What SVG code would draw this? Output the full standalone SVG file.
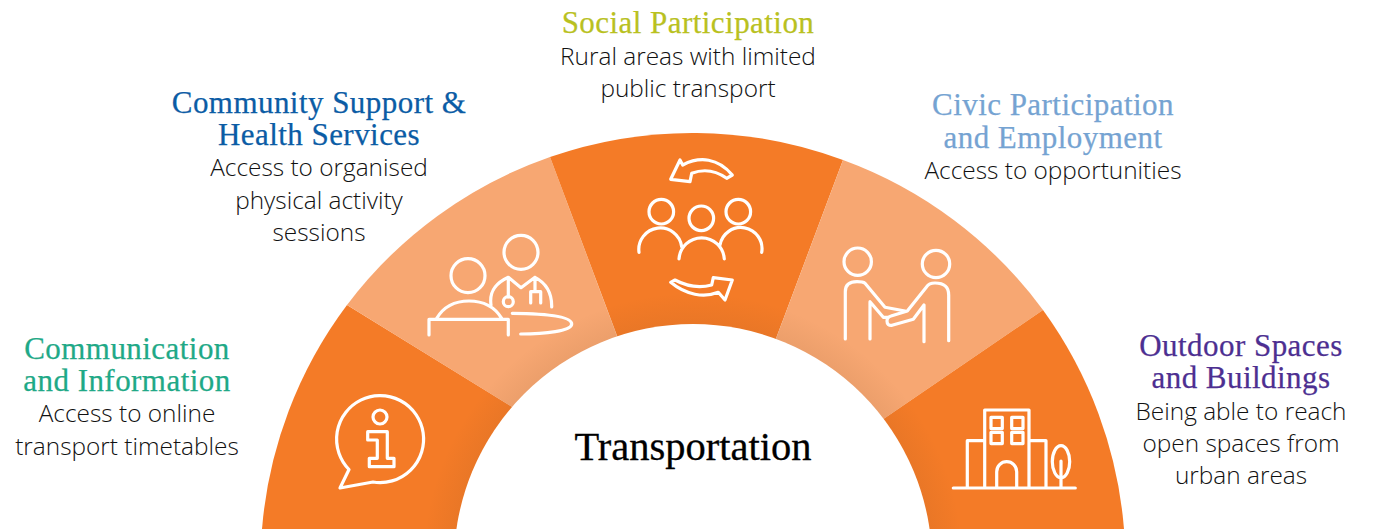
<svg xmlns="http://www.w3.org/2000/svg" width="1387" height="529" viewBox="0 0 1387 529">
<style>
.h{font-family:"Liberation Serif",serif;font-size:31px;letter-spacing:.45px;text-anchor:middle;stroke-width:.25}
.b{font-family:"Open Sans",sans-serif;font-size:24.400px;font-weight:300;fill:#111;text-anchor:middle}
.i{fill:none;stroke:#fff;stroke-width:3.200;stroke-linecap:round;stroke-linejoin:round}
.d{fill:#F47B27}.l{fill:#F7A772}
</style>
<defs>
<radialGradient id="g" gradientUnits="userSpaceOnUse" cx="693" cy="563" r="270">
<stop offset="0.88" stop-color="#7a4a20" stop-opacity=".09"/>
<stop offset="1" stop-color="#7a4a20" stop-opacity="0"/>
</radialGradient>
</defs>
<rect width="1387" height="529" fill="#fff"/>
<g id="ring">
<path class="d" d="M262 529A432 432 0 0 1 347 305L528.500 417L470 529Z"/>
<path class="l" d="M347 305A432 432 0 0 1 550 157L623.700 353.900L528.500 417L512 407Z"/>
<path class="d" d="M550 157A432 432 0 0 1 843 160L770.400 353.600H623.700Z"/>
<path class="l" d="M843 160A432 432 0 0 1 1043 310L869.200 428.800L770.400 353.600Z"/>
<path class="d" d="M1043 310A432 432 0 0 1 1124 529H916L869.200 428.800Z"/>
<circle cx="693" cy="563" r="270" fill="url(#g)"/>
<circle cx="693" cy="563" r="239" fill="#fff"/>
</g>
<g id="node-communication">
<text class="h" x="127" y="358.500" fill="#1FA987" stroke="#1FA987">Communication</text>
<text class="h" x="127" y="390.500" fill="#1FA987" stroke="#1FA987">and Information</text>
<text class="b" x="127" y="422">Access to online</text>
<text class="b" x="127" y="455">transport timetables</text>
<path class="i" d="M349 469.500L340 488L373 482A43.5 43.5 0 1 0 349 469.500Z"/>
<circle class="i" cx="380" cy="417" r="7"/>
<path class="i" d="M367.700 431.700H387.300V458.300H394V466.700H369.300V458.300H377.300V440H367.700Z"/>
</g>
<g id="node-community">
<text class="h" x="319" y="112.500" fill="#0B5CA5" stroke="#0B5CA5">Community Support &amp;</text>
<text class="h" x="319" y="144.500" fill="#0B5CA5" stroke="#0B5CA5">Health Services</text>
<text class="b" x="319" y="176">Access to organised</text>
<text class="b" x="319" y="209">physical activity</text>
<text class="b" x="319" y="241">sessions</text>
<circle class="i" cx="468" cy="275.700" r="17"/>
<circle class="i" cx="521" cy="252.300" r="17"/>
<path class="i" d="M436.700 318.300Q447 301 469 301T501.700 318.300M429 335V319.300H508.300V335"/>
<path class="i" d="M491 305C489 291 496 283 508.300 277.300L521 287.700L535 277.300C546 283 552 292 551.700 307M508.300 277.300V297M535 277.300V291.700M530.700 303V291.700H540.700V303"/>
<circle class="i" cx="508.300" cy="301.700" r="5"/>
<path class="i" d="M512.300 313.300C545 313.500 571.700 316 571.700 324C571.700 331 545 334 520.700 334"/>
</g>
<g id="node-social">
<text class="h" x="688" y="33" fill="#B9C11F" stroke="#B9C11F">Social Participation</text>
<text class="b" x="688" y="65">Rural areas with limited</text>
<text class="b" x="688" y="97">public transport</text>
<circle class="i" cx="661.300" cy="211.700" r="12.300"/>
<circle class="i" cx="701.300" cy="218.300" r="12.300"/>
<circle class="i" cx="738.300" cy="211.700" r="12.300"/>
<path class="i" d="M639 252.300A21 21 0 0 1 681.700 246.700M679 259A22.700 22.700 0 0 1 724.300 259M720 245A21 21 0 0 1 761.700 252.300"/>
<path class="i" d="M670.700 179.300L680 160L682.700 165C700 156 718 158 732.300 175L726.700 178.300C715 170 703 169 691.700 173.300L690 181.700Z"/>
<path class="i" d="M732.300 280L725 300L718.300 292.300C704 298 686 295 670.700 282.300L675 280C688 287 700 288 711.700 285L713.300 277.700Z"/>
</g>
<g id="node-civic">
<text class="h" x="1053" y="114.500" fill="#75A3D2" stroke="#75A3D2">Civic Participation</text>
<text class="h" x="1053" y="147.500" fill="#75A3D2" stroke="#75A3D2">and Employment</text>
<text class="b" x="1053" y="179">Access to opportunities</text>
<circle class="i" cx="857.700" cy="261.700" r="13.700"/>
<circle class="i" cx="936" cy="264" r="13.700"/>
<path class="i" d="M845.300 339V291.700Q845.300 281.700 857 281.700Q863 281.700 865 283.300L885 307.300L905 311M870 339V301.700L883.300 317.300H888"/>
<path class="i" d="M948.700 340.700V295Q948.700 283 935 283Q929 283 926.700 286.700L907.300 311L891 316Q887 317 887 321Q887 325.700 892 325.300L913.300 319.300L924 305V341.700"/>
</g>
<g id="node-outdoor">
<text class="h" x="1241" y="355.500" fill="#4D2F91" stroke="#4D2F91">Outdoor Spaces</text>
<text class="h" x="1241" y="387.500" fill="#4D2F91" stroke="#4D2F91">and Buildings</text>
<text class="b" x="1241" y="420">Being able to reach</text>
<text class="b" x="1241" y="452">open spaces from</text>
<text class="b" x="1241" y="484">urban areas</text>
<path class="i" d="M953.300 488H1075.300M984.700 488V410H1029V488M967.300 488V440.700H984.700M1029 440.700H1046V488M996.700 488V471.700A10 10 0 0 1 1016.700 471.700V488M1061 461V487"/>
<rect class="i" x="991" y="417.300" width="11.300" height="11.300"/>
<rect class="i" x="1011.700" y="417.300" width="11.300" height="11.300"/>
<rect class="i" x="991" y="432.300" width="11.300" height="11.300"/>
<rect class="i" x="1011.700" y="432.300" width="11.300" height="11.300"/>
<ellipse class="i" cx="1061" cy="461.700" rx="8.700" ry="16"/>
</g>
<g id="node-center">
<text x="693" y="460" text-anchor="middle" font-family="Liberation Serif, serif" font-size="40.500" fill="#000" stroke="#000" stroke-width=".3">Transportation</text>
</g>
<g id="connectors"/>
</svg>
